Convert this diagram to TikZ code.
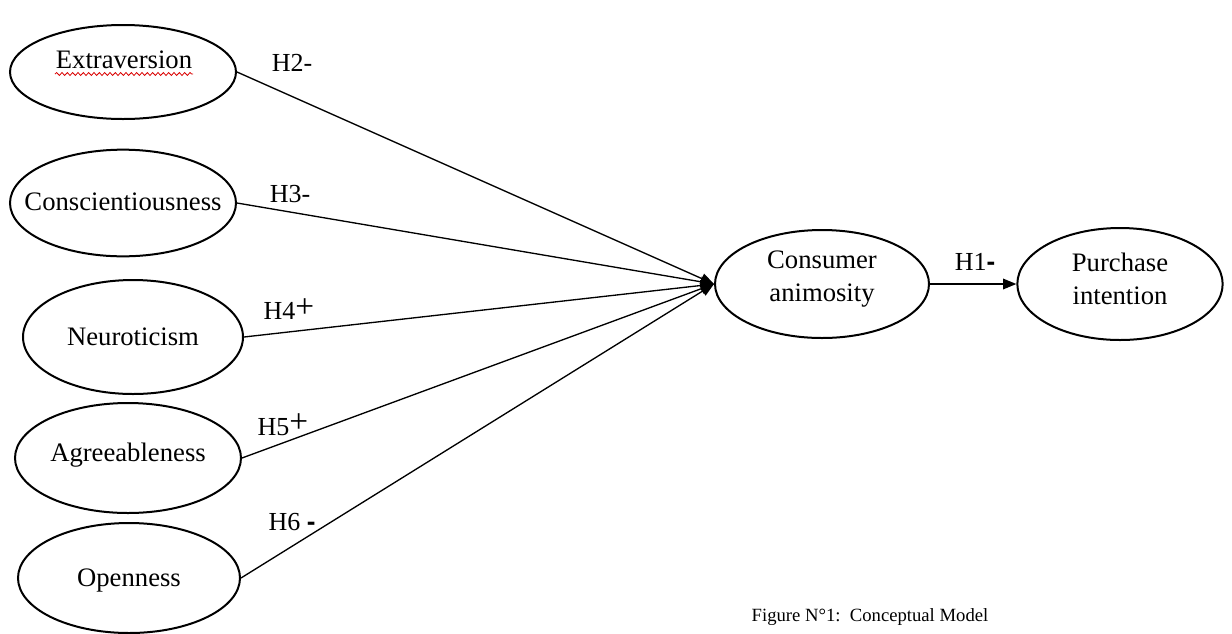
\documentclass[tikz,border=0pt]{standalone}
\usepackage{fontspec}
\setmainfont{Liberation Serif}
\newfontfamily\signfont{Liberation Sans}
\usetikzlibrary{shapes.geometric,arrows.meta,decorations.pathmorphing}
\newcommand{\bigplus}{\raisebox{2pt}{\fontsize{25}{25}\selectfont +}}
\begin{document}
\begin{tikzpicture}[x=0.75pt,y=-0.75pt,
  oval/.style={draw,ellipse,line width=1.5pt,inner sep=0pt},
  conn/.style={line width=1pt,-{Triangle[length=10pt,width=8pt]}},
  hyp/.style={font=\fontsize{19.5}{22}\selectfont,inner sep=0pt},
  txt/.style={font=\fontsize{20}{25}\selectfont,align=center,inner sep=0pt},
  captionstyle/.style={font=\fontsize{14}{16}\selectfont,inner sep=0pt}]
\useasboundingbox (0,0) rectangle (1232,633);

% ellipses
\node[oval,minimum width=169.5pt,minimum height=70.5pt] (ext) at (123,72) {};
\node[oval,minimum width=169.5pt,minimum height=80pt] (con) at (123,203) {};
\node[oval,minimum width=165pt,minimum height=85.5pt] (neu) at (133,337) {};
\node[oval,minimum width=169.5pt,minimum height=82.5pt] (agr) at (128,458) {};
\node[oval,minimum width=166.5pt,minimum height=82.5pt] (ope) at (129,578) {};
\node[oval,minimum width=160.5pt,minimum height=81pt] (cns) at (822,284) {};
\node[oval,minimum width=154pt,minimum height=84pt] (pur) at (1120,284) {};

% texts
\node[txt] (extt) at (124,60) {Extraversion};
\node[txt] (cont) at (123,202) {Conscientiousness};
\node[txt] (neut) at (133,337) {Neuroticism};
\node[txt] (agrt) at (128,455) {Agreeableness};
\node[txt] (opet) at (129,580) {Openness};
\node[txt] (cnst) at (822,279) {Consumer\\animosity};
\node[txt] (purt) at (1120,279) {Purchase\\intention};

% spell-check underline
\coordinate (wa) at (55,74);
\coordinate (wb) at (193,74);
\draw[red!85!black,line width=0.6pt,decorate,decoration={snake,amplitude=1.1pt,segment length=4pt}] (wa) -- (wb);

% connectors
\draw[conn] (ext.east) -- (cns.west);
\draw[conn] (con.east) -- (cns.west);
\draw[conn] (neu.east) -- (cns.west);
\draw[conn] (agr.east) -- (cns.west);
\draw[conn] (ope.east) -- (cns.west);
\draw[conn] (cns.east) -- (pur.west);

% hypothesis labels
\node[hyp] (h2) at (292,63) {H2-};
\node[hyp] (h3) at (290,194) {H3-};
\node[hyp] (h4) at (289,309) {H4\bigplus};
\node[hyp] (h5) at (283,425) {H5\bigplus};
\node[hyp] (h6) at (292,522) {H6 {\signfont\bfseries-}};
\node[hyp] (h1) at (975,262) {H1{\signfont\bfseries-}};

% caption
\node[captionstyle] (capt) at (870,617) {Figure N°1:\ \ Conceptual Model};
\end{tikzpicture}
\end{document}
